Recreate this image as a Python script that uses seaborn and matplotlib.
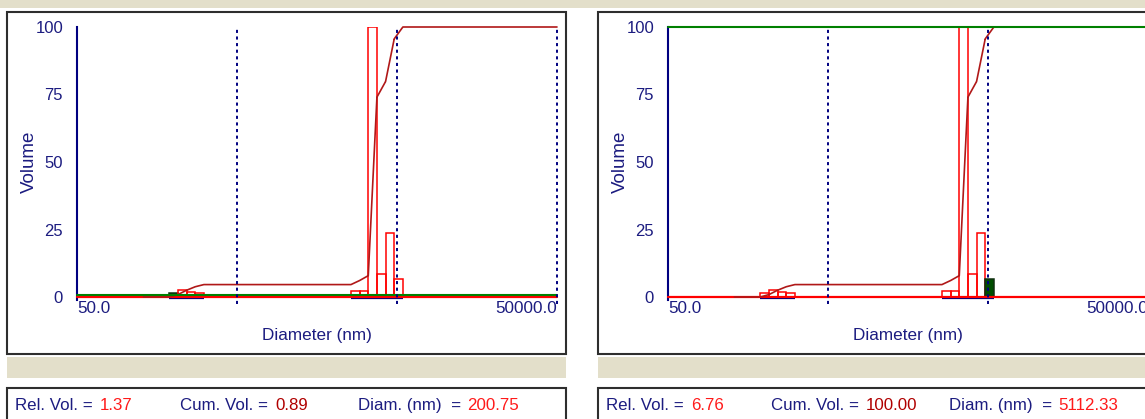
import numpy as np
import seaborn as sns
import matplotlib.pyplot as plt
from matplotlib.patches import Rectangle
from matplotlib.ticker import NullLocator

# size bins (nm, centres) and relative volume (% of largest bin)
diameters = [200.75, 227.4, 257.6, 291.8, 2743, 3107, 3519, 3985, 4514, 5112.33]
rel_volume = [1.37, 2.5, 1.9, 1.6, 2.1, 2.1, 100.0, 8.5, 23.8, 6.76]
cum_volume = [0.89, 2.5, 3.8, 4.6, 6.1, 7.9, 74.0, 79.8, 95.6, 100.0]
bin_ratio = 1.1327       # neighbouring bin centres differ by this factor
cum_start = 130          # cumulative trace leaves zero here

x_range = [50.0, 50000.0]
x_labels = ["50.0", "50000.0"]
decade_lines = [500, 5000, 50000]
y_ticks = [0, 25, 50, 75, 100]

# the two cursor readouts
selected_bin = [0, 9]
readout_rel = ["1.37", "6.76"]
readout_cum = ["0.89", "100.00"]
readout_diam = ["200.75", "5112.33"]

navy = "#1c1c80"
line_navy = "#000080"
red = "#ff0000"
cum_red = "#b01818"
green = "#008000"
sel_green = "#004d00"
beige = "#e3dfca"
frame = "#2e2e2e"

sns.set_theme(style="white")
plt.rcParams["font.family"] = ["Liberation Sans", "DejaVu Sans"]

W, H = 1145, 419
fig = plt.figure(figsize=(W / 100, H / 100), dpi=100)
fig.patch.set_facecolor("white")


def px(x0, y0, x1, y1):
    return [x0 / W, 1 - y1 / H, (x1 - x0) / W, (y1 - y0) / H]


def box(x0, y0, x1, y1, **kw):
    r = px(x0, y0, x1, y1)
    fig.add_artist(Rectangle((r[0], r[1]), r[2], r[3], transform=fig.transFigure,
                             zorder=-5, **kw))


box(0, 0, W, 8, facecolor=beige, edgecolor="none")

d = np.array(diameters)
lo = d / np.sqrt(bin_ratio)
hi = d * np.sqrt(bin_ratio)

cum_x = [cum_start]
cum_y = [0.0]
prev = 0.0
for a, b, c in zip(lo, hi, cum_volume):
    cum_x += [a, b]
    cum_y += [prev, c]
    prev = c
cum_x.append(x_range[1])
cum_y.append(100.0)

for i, fx in enumerate([7, 598]):
    box(fx, 12, fx + 559, 354, facecolor="white", edgecolor=frame, linewidth=1.5)
    box(fx, 357, fx + 559, 378, facecolor=beige, edgecolor="none")
    box(fx, 388, fx + 559, 430, facecolor="white", edgecolor=frame, linewidth=1.5)

    ax = fig.add_axes(px(fx + 70, 27, fx + 550, 297))
    ax.set_facecolor("none")
    ax.set_xscale("log")
    ax.set_xlim(*x_range)
    ax.set_ylim(0, 100)

    sel = selected_bin[i]
    for k in range(len(d)):
        if k == sel:
            ax.bar(lo[k], rel_volume[k], width=hi[k] - lo[k], align="edge",
                   facecolor=sel_green, edgecolor="#103010", linewidth=1.1, zorder=2)
        else:
            ax.bar(lo[k], rel_volume[k], width=hi[k] - lo[k], align="edge",
                   facecolor="none", edgecolor=red, linewidth=1.1, zorder=2)
    ax.hlines(np.full(len(d), -0.5), lo, hi, colors=line_navy, linewidth=1.6,
              zorder=1, clip_on=False)
    ax.axhline(0, color=red, linewidth=1.6, zorder=3, clip_on=False)

    sns.lineplot(x=cum_x, y=cum_y, ax=ax, color=cum_red, linewidth=1.2,
                 estimator=None, sort=False, zorder=4)
    for ln in ax.lines[-1:]:
        ln.set_clip_on(False)

    ax.axhline(float(readout_cum[i]), color=green, linewidth=1.5, zorder=5, clip_on=False)
    ax.vlines(decade_lines, -2.5, 100, colors=line_navy, linestyles=(0, (1.6, 1.8)),
              linewidth=1.4, zorder=6, clip_on=False)

    for s in ["top", "right", "bottom"]:
        ax.spines[s].set_visible(False)
    ax.spines["left"].set_color(line_navy)
    ax.spines["left"].set_linewidth(1.5)
    ax.spines["left"].set_bounds(-1.2, 100)

    ax.set_yticks(y_ticks)
    ax.set_yticks([0, 100], minor=True)
    ax.tick_params(axis="y", which="major", length=0, pad=10, labelcolor=navy, labelsize=12)
    ax.tick_params(axis="y", which="minor", length=4, width=1.2, color=line_navy, left=True)
    ax.xaxis.set_minor_locator(NullLocator())
    ax.set_xticks(x_range, x_labels)
    ax.tick_params(axis="x", length=0, pad=3, labelcolor=navy, labelsize=12.3)
    tl = ax.get_xticklabels()
    tl[0].set_ha("left")
    tl[1].set_ha("right")

    ax.set_xlabel("Diameter (nm)", color=navy, fontsize=12.3)
    ax.xaxis.set_label_coords(0.5, -0.115)
    ax.set_ylabel("")
    ax.text(-0.099, 0.5, "Volume", rotation=90, ha="center", va="center",
            color=navy, fontsize=13.5, transform=ax.transAxes)
    ax.grid(False)

    yb = 1 - 410 / H
    fig.text((fx + 8) / W, yb, "Rel. Vol. =", color=navy, fontsize=12.2, va="baseline")
    fig.text((fx + 93) / W, yb, readout_rel[i], color="#ff1a1a", fontsize=12.2, va="baseline")
    fig.text((fx + 173) / W, yb, "Cum. Vol. =", color=navy, fontsize=12.2, va="baseline")
    fig.text((fx + 268) / W, yb, readout_cum[i], color="#b00000", fontsize=12.2, va="baseline")
    fig.text((fx + 351) / W, yb, "Diam. (nm)  =", color=navy, fontsize=12.2, va="baseline")
    fig.text((fx + 460) / W, yb, readout_diam[i], color="#ff1a1a", fontsize=12.2, va="baseline")

fig.savefig("out.png", dpi=100)
